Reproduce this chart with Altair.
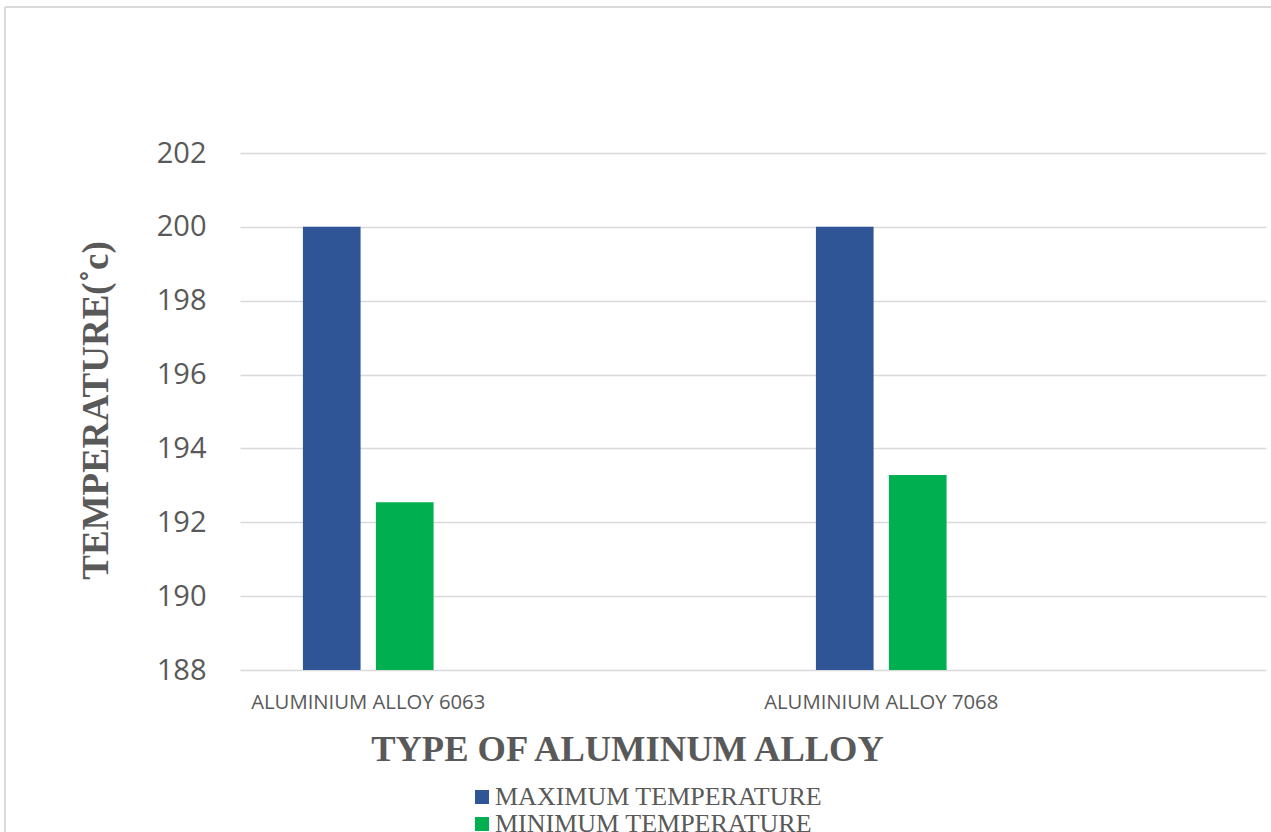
import altair as alt
import pandas as pd

# Alloy grades on the category axis
alloys = ["ALUMINIUM ALLOY 6063", "ALUMINIUM ALLOY 7068"]
# Series names (legend order)
series = ["MAXIMUM TEMPERATURE", "MINIMUM TEMPERATURE"]
# Temperatures in degrees C, one list per series
max_temp = [200.0, 200.0]
min_temp = [192.54, 193.28]
# Y axis ticks
y_ticks = [188, 190, 192, 194, 196, 198, 200, 202]

colors = ["#2F5597", "#00B050"]
axis_grey = "#595959"
grid_grey = "#D9D9D9"

rows = []
for i, a in enumerate(alloys):
    rows.append({"alloy": a, "series": series[0], "temp": max_temp[i]})
    rows.append({"alloy": a, "series": series[1], "temp": min_temp[i]})
df = pd.DataFrame(rows)

W, H = 1026, 517

bars = alt.Chart(df).mark_bar(clip=True).encode(
    x=alt.X(
        "alloy:N",
        sort=alloys,
        scale=alt.Scale(domain=alloys, paddingInner=0.5, paddingOuter=0.25, align=0),
        axis=alt.Axis(
            title="TYPE OF ALUMINUM ALLOY",
            labelAngle=0,
            labelFont="Open Sans",
            labelFontSize=20.3,
            labelColor=axis_grey,
            labelPadding=22,
            labelBaseline="top",
            labelLimit=0,
            labelOverlap=False,
            ticks=False,
            domain=False,
            grid=False,
            titleFont="Liberation Serif",
            titleFontSize=36.5,
            titleFontWeight="bold",
            titleColor=axis_grey,
            titleX=387,
            titleY=90,
            titleAlign="center",
            titleBaseline="alphabetic",
        ),
    ),
    xOffset=alt.XOffset(
        "series:N",
        sort=series,
        scale=alt.Scale(domain=series, paddingInner=0.21, paddingOuter=0.862),
    ),
    y=alt.Y(
        "temp:Q",
        scale=alt.Scale(domain=[188, 202], nice=False, zero=False),
        axis=alt.Axis(
            title="TEMPERATURE(˚c)",
            values=y_ticks,
            format="d",
            labelFont="Open Sans",
            labelFontSize=29,
            labelColor=axis_grey,
            labelPadding=34,
            ticks=False,
            domain=False,
            grid=True,
            gridColor=grid_grey,
            gridWidth=1.6,
            titleFont="Liberation Serif",
            titleFontSize=37,
            titleFontWeight="bold",
            titleColor=axis_grey,
            titleAngle=-90,
            titleX=-144,
            titleY=257,
            titleAlign="center",
            titleBaseline="middle",
        ),
    ),
    color=alt.Color(
        "series:N",
        sort=series,
        scale=alt.Scale(domain=series, range=colors),
        legend=alt.Legend(
            title=None,
            orient="none",
            legendX=229,
            legendY=631,
            direction="vertical",
            symbolType="square",
            symbolSize=196,
            symbolStrokeWidth=0,
            symbolOpacity=1,
            labelFont="Liberation Serif",
            labelFontSize=26,
            labelColor=axis_grey,
            labelOffset=0,
            labelLimit=0,
            rowPadding=1,
            padding=0,
        ),
    ),
)

# Outer frame of the chart area (left and top edges)
frame_left = alt.Chart(df).mark_rule(color=grid_grey, strokeWidth=1.5, clip=False).encode(
    x=alt.value(-235), y=alt.value(-146), y2=alt.value(H + 200)
)
frame_top = alt.Chart(df).mark_rule(color=grid_grey, strokeWidth=1.5, clip=False).encode(
    x=alt.value(-235), x2=alt.value(W + 200), y=alt.value(-146)
)

chart = (
    alt.layer(frame_left, frame_top, bars)
    .properties(
        width=W,
        height=H,
        background="white",
        autosize=alt.AutoSizeParams(type="none"),
        padding={"left": 240, "top": 153, "right": 5, "bottom": 162},
    )
    .configure_view(stroke="transparent", strokeWidth=0)
)

chart.save("out.html", embed_options={"renderer": "svg", "actions": False})
